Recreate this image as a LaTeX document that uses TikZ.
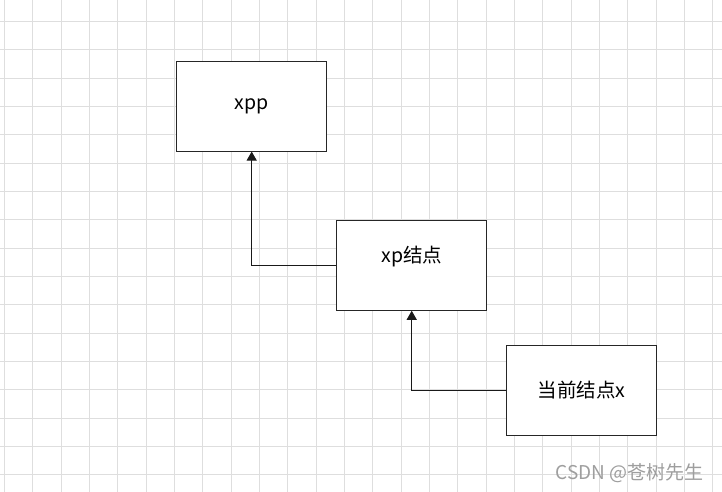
\documentclass[tikz,border=0pt]{standalone}
\usepackage{fontspec}
\setmainfont{Noto Sans CJK SC}
\usetikzlibrary{arrows.meta,positioning}

\begin{document}
\begin{tikzpicture}[
  x=1pt, y=-1pt,
  font=\fontsize{19.5}{22}\selectfont,
  gridline/.style={draw=black!13, line width=0.8pt},
  box/.style={draw=black!85, line width=1pt, fill=white, align=center,
    minimum width=150pt, minimum height=89.5pt, inner sep=0pt},
  arrow/.style={-{Triangle[length=9pt, width=10pt]}, line width=1pt, black!90}
]
\fill[white] (0,0) rectangle (722,492);
\useasboundingbox (0,0) rectangle (722,492);
% background grid
\foreach \i in {0,...,25}
  \draw[gridline] (4.5+28.33*\i,0) -- (4.5+28.33*\i,492);
\foreach \j in {0,...,16}
  \draw[gridline] (0,21.3+28.33*\j) -- (722,21.3+28.33*\j);

\node[box] (xpp) at (251.7,106.3) {xpp};
\node[box, below right=68.7pt and 9pt of xpp] (xp) {xp结点\\\mbox{}};
\node[box, below right=34.3pt and 19pt of xp] (cur) {当前结点x};

\draw[arrow] (xp.west) -| (xpp.south);
\draw[arrow] (cur.west) -| (xp.south);

\node[text=black!38, anchor=east, font=\fontsize{19}{21}\selectfont] (mark) at (707,473) {CSDN @苍树先生};
\end{tikzpicture}
\end{document}
